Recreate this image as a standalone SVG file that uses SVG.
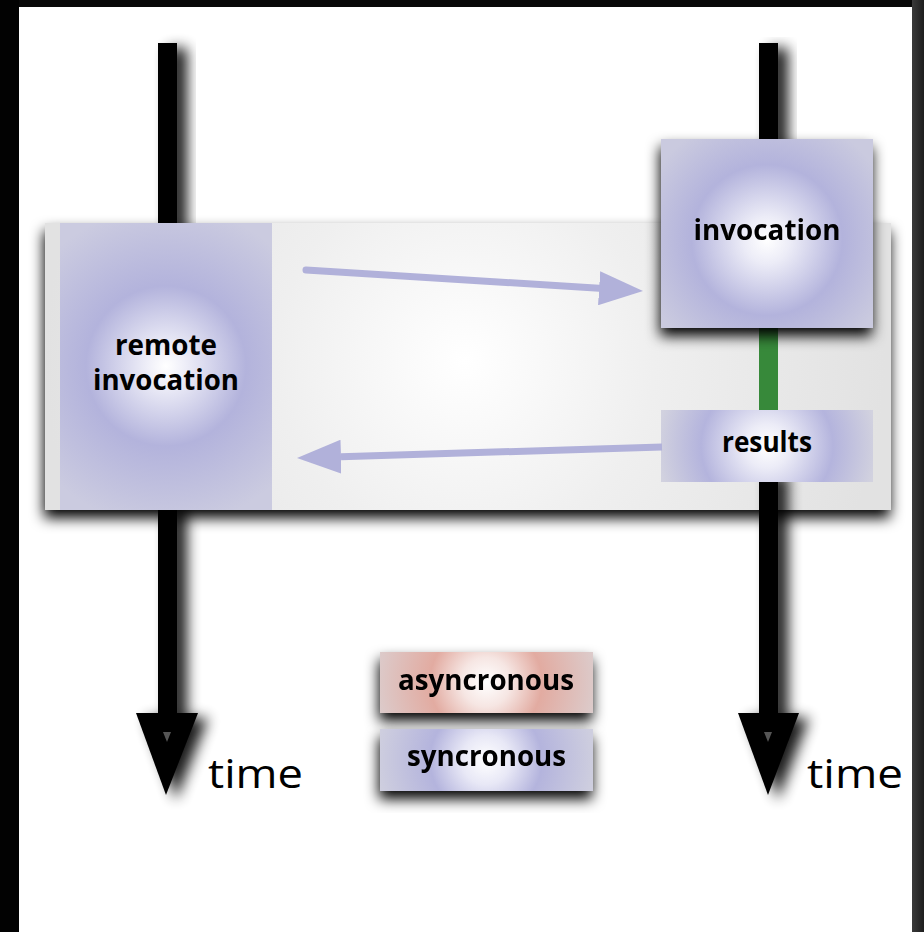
<svg xmlns="http://www.w3.org/2000/svg" width="924" height="932" viewBox="0 0 924 932">
  <style>
    .label { font-family: "Open Sans", "Liberation Sans", sans-serif; font-weight: 700; font-size: 28px; fill: #000; text-anchor: middle; }
    .time { font-family: "Open Sans", "Liberation Sans", sans-serif; font-weight: 400; font-size: 40px; fill: #000; }
    .shaft { fill: #000; }
    .conn { stroke: #b1b1da; stroke-width: 7; fill: none; }
  </style>
  <defs>
    <!-- soft drop shadow used by boxes and panel -->
    <filter id="drop" x="-20%" y="-25%" width="140%" height="160%">
      <feGaussianBlur in="SourceAlpha" stdDeviation="7"/>
      <feOffset dx="-1" dy="8" result="b"/>
      <feComponentTransfer><feFuncA type="linear" slope="1"/></feComponentTransfer>
      <feMerge><feMergeNode/><feMergeNode in="SourceGraphic"/></feMerge>
    </filter>
    <!-- shadow thrown to the right by the time lines -->
    <filter id="sideShadow" x="-100%" y="-10%" width="300%" height="120%">
      <feGaussianBlur in="SourceAlpha" stdDeviation="7"/>
      <feOffset dx="10" dy="5" result="b"/>
      <feComponentTransfer><feFuncA type="linear" slope="0.9"/></feComponentTransfer>
      <feMerge><feMergeNode/><feMergeNode in="SourceGraphic"/></feMerge>
    </filter>

    <radialGradient id="panelFill" cx="465" cy="360" r="420" gradientUnits="userSpaceOnUse">
      <stop offset="0" stop-color="#ffffff"/>
      <stop offset="0.45" stop-color="#efefef"/>
      <stop offset="1" stop-color="#e2e2e2"/>
    </radialGradient>
    <radialGradient id="remoteFill" cx="166" cy="366" r="160" gradientUnits="userSpaceOnUse">
      <stop offset="0" stop-color="#ffffff"/>
      <stop offset="0.12" stop-color="#eeeef8"/>
      <stop offset="0.5" stop-color="#b3b3dc"/>
      <stop offset="1" stop-color="#cbcbe0"/>
    </radialGradient>
    <radialGradient id="invFill" cx="767" cy="240" r="130" gradientUnits="userSpaceOnUse">
      <stop offset="0" stop-color="#ffffff"/>
      <stop offset="0.18" stop-color="#ececf7"/>
      <stop offset="0.58" stop-color="#b3b3dc"/>
      <stop offset="1" stop-color="#cacadf"/>
    </radialGradient>
    <radialGradient id="resFill" cx="767" cy="446" r="110" gradientUnits="userSpaceOnUse">
      <stop offset="0" stop-color="#ffffff"/>
      <stop offset="0.2" stop-color="#ececf7"/>
      <stop offset="0.6" stop-color="#b4b4dd"/>
      <stop offset="1" stop-color="#d2d2df"/>
    </radialGradient>
    <radialGradient id="asyncFill" cx="486" cy="682" r="112" gradientUnits="userSpaceOnUse">
      <stop offset="0" stop-color="#ffffff"/>
      <stop offset="0.22" stop-color="#f6e6e3"/>
      <stop offset="0.5" stop-color="#e2aba1"/>
      <stop offset="1" stop-color="#dccccc"/>
    </radialGradient>
    <radialGradient id="syncFill" cx="486" cy="760" r="112" gradientUnits="userSpaceOnUse">
      <stop offset="0" stop-color="#ffffff"/>
      <stop offset="0.22" stop-color="#e8e8f6"/>
      <stop offset="0.5" stop-color="#b4b4dd"/>
      <stop offset="1" stop-color="#d0d0df"/>
    </radialGradient>
    <linearGradient id="rightEdge" x1="0" y1="0" x2="1" y2="0">
      <stop offset="0" stop-color="#3a3a3a"/>
      <stop offset="1" stop-color="#1e1e1e"/>
    </linearGradient>

    <marker id="head" viewBox="0 0 44 34" refX="0" refY="17" markerWidth="44" markerHeight="34" markerUnits="userSpaceOnUse" orient="auto">
      <path d="M0,0 L44,17 L0,34 Z" fill="#b1b1da"/>
    </marker>
  </defs>

  <!-- page background and frame -->
  <rect x="0" y="0" width="924" height="932" fill="#ffffff"/>
  <rect x="0" y="0" width="924" height="7" fill="#080808"/>
  <rect x="0" y="0" width="19" height="932" fill="#020202"/>
  <rect x="912" y="0" width="12" height="932" fill="url(#rightEdge)"/>

  <!-- time lines, upper parts (behind the panel) -->
  <g id="timeline-left-upper" filter="url(#sideShadow)">
    <rect class="shaft" x="158" y="43" width="19" height="200"/>
  </g>
  <g id="timeline-right-upper" filter="url(#sideShadow)">
    <rect class="shaft" x="759" y="43" width="19" height="110"/>
  </g>

  <!-- shared grey panel -->
  <g id="panel" filter="url(#drop)">
    <rect x="45" y="223" width="846" height="287" fill="url(#panelFill)"/>
  </g>

  <!-- time lines, lower parts with arrowheads -->
  <g id="timeline-left" filter="url(#sideShadow)">
    <rect class="shaft" x="158" y="500" width="19" height="220"/>
    <path class="shaft" d="M136,713 L198,713 L166,795 Z"/>
  </g>
  <path d="M163,732 L171,732 L167,742 Z" fill="#555"/>
  <g id="timeline-right" filter="url(#sideShadow)">
    <rect class="shaft" x="759" y="470" width="19" height="250"/>
    <path class="shaft" d="M738,713 L799,713 L768,795 Z"/>
  </g>
  <path d="M764,732 L772,732 L768,742 Z" fill="#555"/>

  <!-- synchronous processing bar between invocation and results -->
  <g id="bar-sync">
    <rect x="759" y="326" width="19" height="88" fill="#37893a"/>
  </g>

  <g id="node-remote">
    <rect x="60" y="223" width="212" height="287" fill="url(#remoteFill)"/>
    <text class="label" x="166" y="355" textLength="102" lengthAdjust="spacingAndGlyphs">remote</text>
    <text class="label" x="166" y="390" textLength="146" lengthAdjust="spacingAndGlyphs">invocation</text>
  </g>

  <g id="node-invocation" filter="url(#drop)">
    <rect x="661" y="139" width="212" height="189" fill="url(#invFill)"/>
    <text class="label" x="767" y="240" textLength="147" lengthAdjust="spacingAndGlyphs">invocation</text>
  </g>

  <g id="node-results">
    <rect x="661" y="410" width="212" height="72" fill="url(#resFill)"/>
    <text class="label" x="767" y="452" textLength="90" lengthAdjust="spacingAndGlyphs">results</text>
  </g>

  <!-- message arrows -->
  <g id="connectors">
    <path class="conn" d="M306,270 L599.1,288.3" stroke-linecap="round" marker-end="url(#head)"/>
    <path class="conn" d="M662,447 L341,456.7" marker-end="url(#head)"/>
  </g>

  <!-- legend -->
  <g id="legend-async" filter="url(#drop)">
    <rect x="380" y="652" width="213" height="61" fill="url(#asyncFill)"/>
    <text class="label" x="486" y="690" textLength="176" lengthAdjust="spacingAndGlyphs">asyncronous</text>
  </g>
  <g id="legend-sync" filter="url(#drop)">
    <rect x="380" y="729" width="213" height="62" fill="url(#syncFill)"/>
    <text class="label" x="486.5" y="766" textLength="159" lengthAdjust="spacingAndGlyphs">syncronous</text>
  </g>

  <!-- axis captions -->
  <g id="labels-time">
    <text class="time" x="208" y="788" textLength="95" lengthAdjust="spacingAndGlyphs">time</text>
    <text class="time" x="807" y="788" textLength="96" lengthAdjust="spacingAndGlyphs">time</text>
  </g>
</svg>
